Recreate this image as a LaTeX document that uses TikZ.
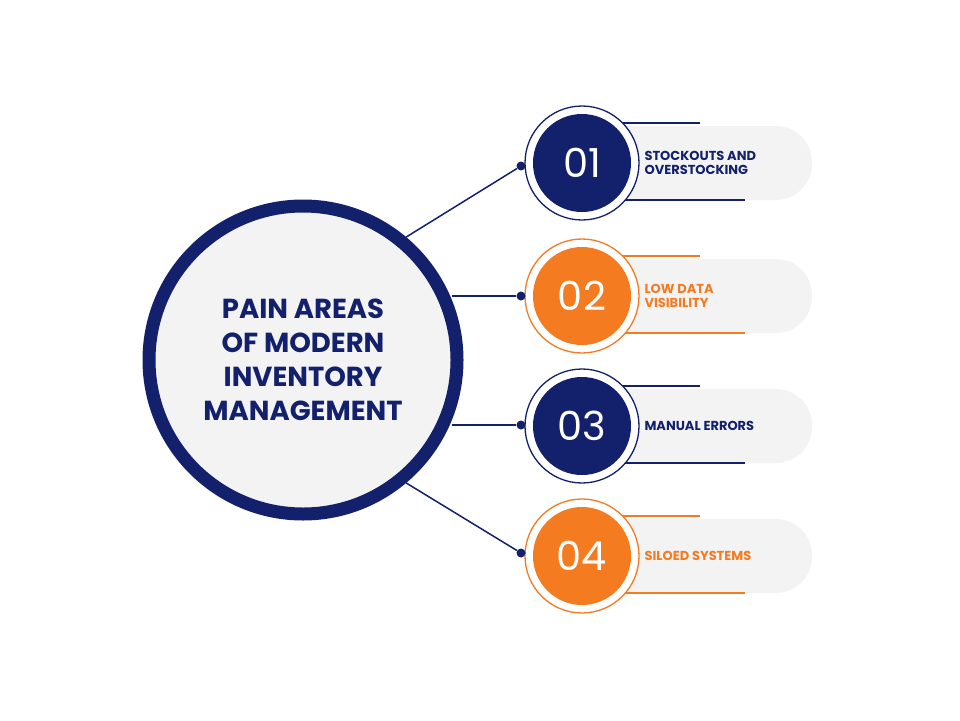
\documentclass[tikz,border=0pt]{standalone}
\usepackage{fontspec}
\setmainfont{Poppins}
\definecolor{navy}{HTML}{13206B}
\definecolor{orng}{HTML}{F47B20}
\definecolor{pale}{HTML}{F3F3F4}
\tikzset{
  pill/.style={fill=pale, rounded corners=36pt},
  num/.style={text=white, font=\fontsize{40}{40}\selectfont},
  lab/.style={font=\bfseries\fontsize{13}{14}\selectfont, anchor=west, align=left},
  dot/.style={circle, inner sep=0pt, minimum size=9pt},
  conn/.style={line width=1.5pt, color=navy},
}
\begin{document}
\begin{tikzpicture}[x=1pt,y=-1pt]
\useasboundingbox (0,0) rectangle (960,720);
% big circle
\node[circle, draw=navy, line width=13pt, fill=pale, minimum size=308pt, inner sep=0pt] (big) at (303,360) {};
\node[text=navy, font=\bfseries\fontsize{27.5}{34}\selectfont, align=center] (title) at (303,360) {PAIN AREAS\\OF MODERN\\INVENTORY\\MANAGEMENT};
% items
\foreach \i/\y/\c/\n/\t/\dy in {1/163/navy/01/{STOCKOUTS AND\\OVERSTOCKING}/166, 2/296/orng/02/{LOW DATA\\VISIBILITY}/296, 3/426/navy/03/{MANUAL ERRORS}/425, 4/556/orng/04/{SILOED SYSTEMS}/553}{
  \fill[pale, rounded corners=36pt] (582,\y-37) rectangle (812,\y+37);
  \draw[\c, line width=1.3pt] (600,\y-40) -- (700,\y-40);
  \draw[\c, line width=1.3pt] (600,\y+37) -- (745,\y+37);
  \node[circle, draw=\c, line width=1.3pt, fill=white, minimum size=114pt, inner sep=0pt] (ring\i) at (582,\y) {};
  \node[circle, fill=\c, minimum size=98pt, inner sep=0pt, num] (c\i) at (582,\y) {\n};
  \node[lab, text=\c] (l\i) at (641,\y) {\t};
  \node[dot, fill=navy] (d\i) at (521,\dy) {};
}
\draw[conn] (big.50) -- (d1);
\draw[conn] ([xshift=-12pt]big.east |- d2) -- (d2);
\draw[conn] ([xshift=-12pt]big.east |- d3) -- (d3);
\draw[conn] (big.-50) -- (d4);
\end{tikzpicture}
\end{document}
